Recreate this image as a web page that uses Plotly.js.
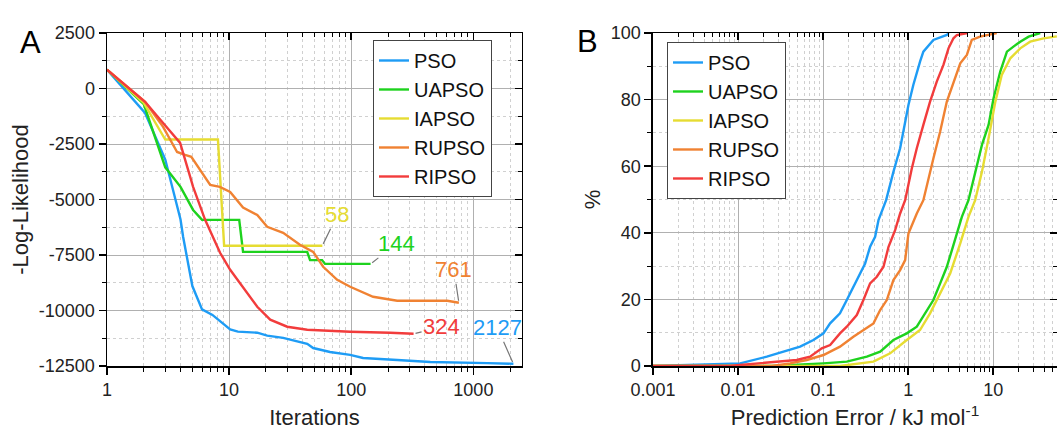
<!DOCTYPE html>
<html>
<head>
<meta charset="utf-8">
<script src="https://cdn.plot.ly/plotly-3.0.1.min.js"></script>
<style>html,body{margin:0;padding:0;background:#fff;}</style>
</head>
<body>
<div id="chart" style="width:1057px;height:430px;"></div>
<script>
// ---------- Panel A data (Iterations vs -Log-Likelihood) ----------
const seriesNames = ['PSO', 'UAPSO', 'IAPSO', 'RUPSO', 'RIPSO'];

const PSO_iter = [1, 2.05, 3, 4, 4.2, 5, 6, 7.3, 10.2, 11.8, 17, 20.5, 27.7, 43.6, 48.8, 67, 98, 125, 238, 444, 1303, 2127];
const PSO_ll   = [850, -1100, -3200, -5900, -6680, -8900, -9950, -10200, -10850, -10950, -11000, -11130, -11230, -11500, -11690, -11870, -12000, -12140, -12230, -12320, -12370, -12400];

const UAPSO_iter = [1, 2, 3, 4, 5.07, 6, 12.1, 13, 43.6, 46, 57.7, 61, 144];
const UAPSO_ll   = [850, -700, -3550, -4430, -5470, -5920, -5920, -7360, -7360, -7730, -7730, -7900, -7900];

const IAPSO_iter = [1, 2, 3, 8.1, 9.1, 58];
const IAPSO_ll   = [850, -650, -2300, -2300, -7080, -7080];

const RUPSO_iter = [1, 2.05, 2.88, 3.75, 4.36, 4.9, 7.0, 8.4, 10.2, 13, 17, 20.5, 27.7, 38, 48.8, 58.9, 76.7, 98, 151, 238, 612, 761];
const RUPSO_ll   = [850, -600, -1730, -2860, -2990, -3080, -4340, -4430, -4660, -5360, -5700, -6230, -6500, -7040, -7360, -8030, -8620, -8930, -9380, -9560, -9560, -9650];

const RIPSO_iter = [1, 2.05, 2.88, 3.97, 4.8, 5.07, 6.36, 8.43, 10.2, 13, 17, 21.7, 29.9, 43.6, 98, 208, 324];
const RIPSO_ll   = [850, -600, -1550, -2450, -3980, -4430, -5915, -7400, -8165, -8930, -9830, -10415, -10730, -10865, -10955, -11000, -11050];

// ---------- Panel B data (Prediction error CDF) ----------
const PSO_err = [0.001, 0.002, 0.0106, 0.0218, 0.0312, 0.0537, 0.077, 0.101, 0.121, 0.158, 0.19, 0.227, 0.272, 0.312, 0.357, 0.409, 0.448, 0.513, 0.551, 0.671, 0.805, 1.008, 1.15, 1.38, 1.51, 1.98, 2.85, 3.0];
const PSO_pct = [0, 0.3, 0.8, 2.8, 4, 5.8, 7.8, 9.8, 12.8, 15.8, 19.8, 23.8, 27.8, 30.8, 35.8, 38.8, 43.8, 47.8, 49.8, 58.3, 65.4, 78.4, 84.4, 91.4, 94.4, 97.9, 99.4, 100];

const UAPSO_err = [0.001, 0.025, 0.101, 0.19, 0.327, 0.469, 0.671, 0.964, 1.264, 1.66, 1.98, 2.38, 2.85, 3.27, 3.74, 4.28, 5.12, 6.43, 7.37, 8.82, 10.1, 12.1, 14.5, 17.3, 20.8, 26.1, 35.7];
const UAPSO_pct = [0, 0, 0.8, 1.3, 2.8, 4.3, 7.8, 9.8, 11.8, 16.8, 19.8, 24.8, 29.8, 34.8, 39.8, 44.8, 49.8, 60.4, 66.4, 72.4, 80.4, 88.4, 94.4, 95.9, 97.4, 98.9, 100];

const IAPSO_err = [0.001, 0.158, 0.391, 0.614, 0.964, 1.38, 1.81, 2.38, 3.12, 4.1, 5.12, 6.14, 7.37, 8.82, 10.6, 12.6, 15.9, 20.8, 27.2, 39.1, 56];
const IAPSO_pct = [0, 0, 1.3, 3.8, 7.8, 10.8, 15.8, 21.8, 27.8, 36.8, 44.8, 49.8, 58.3, 68.4, 79.4, 87.4, 92.4, 95.4, 97.4, 98.4, 99];

const RUPSO_err = [0.001, 0.025, 0.041, 0.0643, 0.101, 0.158, 0.227, 0.298, 0.391, 0.469, 0.561, 0.671, 0.805, 0.922, 1.008, 1.264, 1.51, 1.98, 2.38, 2.85, 3.41, 4.1, 4.9, 5.6, 7.0, 11];
const RUPSO_pct = [0, 0, 0.8, 1.8, 3.3, 5.8, 8.8, 10.8, 12.8, 16.8, 19.8, 25.8, 28.8, 31.8, 39.8, 45.8, 49.8, 62.3, 70.4, 79.4, 85.4, 90.9, 93.4, 97.9, 98.9, 100];

const RIPSO_err = [0.001, 0.008, 0.0106, 0.031, 0.049, 0.0703, 0.0965, 0.121, 0.158, 0.19, 0.249, 0.298, 0.357, 0.428, 0.513, 0.588, 0.703, 0.805, 0.922, 1.104, 1.264, 1.51, 1.81, 2.17, 2.6, 2.98, 3.41, 3.74, 5.0];
const RIPSO_pct = [0, 0, 0.3, 1.3, 1.8, 2.8, 5.3, 6.3, 9.8, 11.8, 15.3, 19.8, 24.8, 26.8, 29.8, 35.8, 40.8, 45.8, 49.8, 59.3, 65.4, 72.4, 79.4, 85.4, 90.4, 95.4, 98.4, 99.4, 100];

// ---------- Tick labels ----------
const iterTickVals = [1, 10, 100, 1000];
const iterTickText = ['1', '10', '100', '1000'];
const llTickVals = [-12500, -10000, -7500, -5000, -2500, 0, 2500];
const llTickText = ['-12500', '-10000', '-7500', '-5000', '-2500', '0', '2500'];
const errTickVals = [0.001, 0.01, 0.1, 1, 10];
const errTickText = ['0.001', '0.01', '0.1', '1', '10'];
const pctTickVals = [0, 20, 40, 60, 80, 100];
const pctTickText = ['0', '20', '40', '60', '80', '100'];

// ---------- Styling ----------
const colors = ['#1e9cf5', '#1ed21e', '#e6dc32', '#f08232', '#f23c3c'];
const FONT = 'Liberation Sans, Arial, Helvetica, sans-serif';
const labelOffsets = [[-16, -36], [26, -20], [15, -31], [-5, -33], [28, -7]];

const iterData = [[PSO_iter, PSO_ll], [UAPSO_iter, UAPSO_ll], [IAPSO_iter, IAPSO_ll], [RUPSO_iter, RUPSO_ll], [RIPSO_iter, RIPSO_ll]];
const errData = [[PSO_err, PSO_pct], [UAPSO_err, UAPSO_pct], [IAPSO_err, IAPSO_pct], [RUPSO_err, RUPSO_pct], [RIPSO_err, RIPSO_pct]];

function logMinor(d0, d1) {
  const out = [];
  for (let e = d0; e < d1; e++) for (let k = 2; k <= 9; k++) out.push(k * Math.pow(10, e));
  return out;
}
function linMinor(a, b, step) {
  const out = [];
  for (let v = a; v <= b + 1e-9; v += step) out.push(v);
  return out;
}

const traces = [];
iterData.forEach((d, i) => {
  traces.push({x: d[0], y: d[1], type: 'scatter', mode: 'lines', name: seriesNames[i],
    line: {color: colors[i], width: 2.4}, xaxis: 'x', yaxis: 'y', legend: 'legend'});
});
errData.forEach((d, i) => {
  traces.push({x: d[0], y: d[1], type: 'scatter', mode: 'lines', name: seriesNames[i],
    line: {color: colors[i], width: 2.4}, xaxis: 'x2', yaxis: 'y2', legend: 'legend2'});
});
// empty helper traces so the mirrored (inward-tick) top/right axes get drawn
[['x3', 'y'], ['x', 'y3'], ['x4', 'y2'], ['x2', 'y4']].forEach(p => {
  traces.push({x: [], y: [], type: 'scatter', mode: 'lines', xaxis: p[0], yaxis: p[1], showlegend: false, hoverinfo: 'skip'});
});

const gridMajor = '#b0b0b0';
const gridMinor = '#d0d0d0';

function mainAxis(extra) {
  return Object.assign({
    showline: true, mirror: true, linecolor: '#000', linewidth: 1.5,
    ticks: 'outside', ticklen: 7, tickwidth: 1.5, tickcolor: '#000',
    showgrid: true, gridcolor: gridMajor, gridwidth: 1, zeroline: false,
    tickfont: {size: 18, color: '#222'}, tickmode: 'array'
  }, extra);
}
function mirrorAxis(extra) {
  return Object.assign({
    ticks: 'inside', ticklen: 7, tickwidth: 1.5, tickcolor: '#000',
    showticklabels: false, showgrid: false, showline: false, zeroline: false, tickmode: 'array'
  }, extra);
}

const xr1 = [0, Math.log10(2500)];
const yr1 = [-12500, 2500];
const xr2 = [-3, 1.75];
const yr2 = [0, 100];
const iterMinor = logMinor(0, 4);
const errMinor = logMinor(-3, 2);
const llMinor = linMinor(-11250, 1250, 2500);
const pctMinor = linMinor(10, 90, 20);

const minorGrid = (vals) => ({tickmode: 'array', tickvals: vals, ticks: 'outside', ticklen: 4, tickwidth: 1, tickcolor: '#000', showgrid: true, gridcolor: gridMinor, gridwidth: 1, griddash: 'dot'});
const minorIn = (vals) => ({tickmode: 'array', tickvals: vals, ticks: 'inside', ticklen: 4, tickwidth: 1, tickcolor: '#000', showgrid: false});

const annotations = [];
iterData.forEach((d, i) => {
  const xs = d[0], ys = d[1];
  const lx = xs[xs.length - 1], ly = ys[ys.length - 1];
  annotations.push({x: Math.log10(lx), y: ly, xref: 'x', yref: 'y', text: String(lx),
    showarrow: true, arrowhead: 0, arrowwidth: 1.2, arrowcolor: '#777', standoff: 2,
    ax: labelOffsets[i][0], ay: labelOffsets[i][1], font: {family: FONT, size: 22, color: colors[i]}});
});
annotations.push({text: 'A', xref: 'paper', yref: 'paper', x: -0.094, y: 1.03, showarrow: false, font: {family: FONT, size: 31, color: '#000'}});
annotations.push({text: 'B', xref: 'paper', yref: 'paper', x: 0.506, y: 1.033, showarrow: false, font: {family: FONT, size: 31, color: '#000'}});

const layout = {
  width: 1057, height: 430,
  margin: {l: 107, r: 0, t: 33, b: 64},
  paper_bgcolor: '#fff', plot_bgcolor: '#fff',
  font: {family: FONT, size: 18, color: '#222'},
  showlegend: true,
  xaxis: mainAxis({domain: [0, 0.4368], type: 'log', range: xr1, anchor: 'y',
    tickvals: iterTickVals, ticktext: iterTickText, minor: minorGrid(iterMinor),
    title: {text: 'Iterations', font: {size: 22, color: '#222'}, standoff: 12}}),
  yaxis: mainAxis({domain: [0, 1], range: yr1, anchor: 'x',
    tickvals: llTickVals, ticktext: llTickText, minor: minorGrid(llMinor),
    title: {text: '-Log-Likelihood', font: {size: 22, color: '#222'}, standoff: 4}}),
  xaxis2: mainAxis({domain: [0.5747, 1], type: 'log', range: xr2, anchor: 'y2',
    tickvals: errTickVals, ticktext: errTickText, minor: minorGrid(errMinor),
    title: {text: 'Prediction Error / kJ mol<sup>-1</sup>', font: {size: 22, color: '#222'}, standoff: 14}}),
  yaxis2: mainAxis({domain: [0, 1], range: yr2, anchor: 'x2',
    tickvals: pctTickVals, ticktext: pctTickText, minor: minorGrid(pctMinor),
    title: {text: '%', font: {size: 22, color: '#222'}, standoff: 4}}),
  xaxis3: mirrorAxis({overlaying: 'x', side: 'top', anchor: 'y', type: 'log', range: xr1, tickvals: iterTickVals, minor: minorIn(iterMinor)}),
  yaxis3: mirrorAxis({overlaying: 'y', side: 'right', anchor: 'x', range: yr1, tickvals: llTickVals, minor: minorIn(llMinor)}),
  xaxis4: mirrorAxis({overlaying: 'x2', side: 'top', anchor: 'y2', type: 'log', range: xr2, tickvals: errTickVals, minor: minorIn(errMinor)}),
  yaxis4: mirrorAxis({overlaying: 'y2', side: 'right', anchor: 'x2', range: yr2, tickvals: pctTickVals, minor: minorIn(pctMinor)}),
  legend: {x: 0.28, y: 0.979, xanchor: 'left', yanchor: 'top', bgcolor: '#fff', bordercolor: '#444', borderwidth: 1,
    font: {family: FONT, size: 20, color: '#111'}, tracegroupgap: 0},
  legend2: {x: 0.5895, y: 0.973, xanchor: 'left', yanchor: 'top', bgcolor: '#fff', bordercolor: '#444', borderwidth: 1,
    font: {family: FONT, size: 20, color: '#111'}, tracegroupgap: 0},
  annotations: annotations
};

Plotly.newPlot('chart', traces, layout, {displayModeBar: false, staticPlot: true});
</script>
</body>
</html>
